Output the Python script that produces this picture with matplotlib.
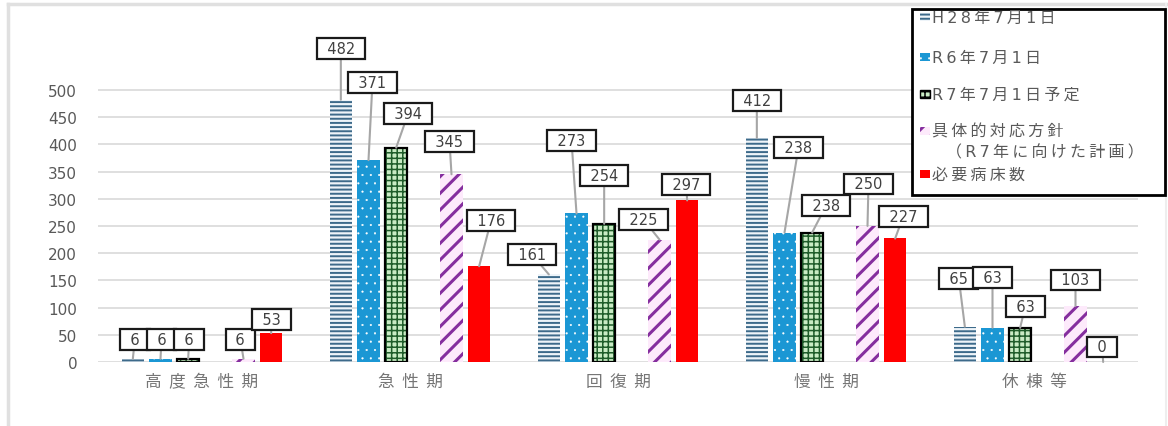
import matplotlib
matplotlib.use("Agg")
import matplotlib.pyplot as plt
from matplotlib.patches import Rectangle
from matplotlib.lines import Line2D

plt.rcParams['font.family'] = ['Noto Sans CJK JP', 'DejaVu Sans']
LATIN = ['DejaVu Sans', 'Noto Sans CJK JP']

# データ
categories = ["高度急性期", "急性期", "回復期", "慢性期", "休棟等"]
series_names = ["H28年7月1日", "R6年7月1日", "R7年7月1日予定",
                "具体的対応方針\n（R7年に向けた計画）", "必要病床数"]
h28 = [6, 482, 161, 412, 65]
r6 = [6, 371, 273, 238, 63]
r7 = [6, 394, 254, 238, 63]
plan = [6, 345, 225, 250, 103]
need = [53, 176, 297, 227, 0]
yticks = list(range(0, 501, 50))

# ラベル位置 (棒の上端からのずれ, ピクセル)
label_offsets = [
    [(2, 19), (0, 51), (-17, 20), (0, 37), (-6, 48)],
    [(1, 19), (4, 78), (-5, 73), (14, 85), (0, 50)],
    [(1, 19), (12, 34), (0, 48), (14, 27), (5, 21)],
    [(-3, 19), (-2, 33), (-16, 20), (1, 42), (0, 26)],
    [(0, 14), (12, 46), (-1, 16), (8, 22), (-1, 15)],
]

W, H = 1168, 427
fig = plt.figure(figsize=(W / 100, H / 100), dpi=100)
ax = fig.add_axes([98 / W, 64 / H, 1040 / W, 358 / H])

slot = 0.133
width = 0.106
slots = [-2.5, -1.5, -0.5, 1.5, 2.5]
# (face, hatch, hatchcolor, hatch lw, edge)
styles = [
    ("#eef4f9", "----", "#3d6a8a", 1.4, None),
    ("#1b97d4", "..", "#ffffff", 0.3, None),
    ("#c9ebc4", "+++", "#1f5c2a", 1.1, "#000000"),
    ("#fdeafb", "//", "#852e9e", 2.2, None),
    ("#ff0000", None, "#ff0000", 1.0, None),
]


def hatched_bars(target, xs, hs, w, st):
    face, hatch, hcol, hlw, edge = st
    with plt.rc_context({"hatch.linewidth": hlw}):
        bars = target.bar(xs, hs, w, color=face, hatch=hatch,
                          edgecolor=hcol, linewidth=0, zorder=3)
        if edge is not None:
            target.bar(xs, hs, w, facecolor="none",
                       edgecolor=edge, linewidth=1.6, zorder=4)
    return bars


x = list(range(len(categories)))
for i, vals in enumerate([h28, r6, r7, plan, need]):
    xs = [xi + slots[i] * slot for xi in x]
    hatched_bars(ax, xs, vals, width, styles[i])
    for j, v in enumerate(vals):
        dx, dy = label_offsets[i][j]
        ax.annotate("\u2002" + str(v) + "\u2002", xy=(xs[j], v), xytext=(dx, dy),
                    textcoords="offset pixels", ha="center", va="center",
                    fontsize=10.5, color="#404040", zorder=6, family=LATIN,
                    bbox=dict(boxstyle="square,pad=0.2", fc="white",
                              ec="#1a1a1a", lw=1.6),
                    arrowprops=dict(arrowstyle="-", color="#a6a6a6", lw=1.5,
                                    shrinkA=0, shrinkB=0))

ax.set_xlim(-0.5, 4.5)
ax.set_ylim(0, 658)
ax.set_yticks(yticks)
ax.set_xticks(x)
ax.set_xticklabels(["  ".join(c) for c in categories], fontsize=12,
                   color="#767676")
ax.tick_params(axis="y", length=0, pad=15)
for t in ax.get_yticklabels():
    t.set_family(LATIN)
    t.set_fontsize(11)
    t.set_color("#595959")
ax.tick_params(axis="x", length=0, pad=8)
ax.grid(axis="y", color="#d9d9d9", lw=1.2, zorder=0)
ax.set_axisbelow(True)
for s in ax.spines.values():
    s.set_visible(False)


# 外枠
def fx(px):
    return px / W


def fy(py):
    return 1 - py / H


fig.add_artist(Line2D([fx(8), fx(8)], [fy(5), fy(427)], color="#e0e0e0", lw=2.5))
fig.add_artist(Line2D([fx(8), fx(1166)], [fy(5), fy(5)], color="#e0e0e0", lw=2.5))
fig.add_artist(Line2D([fx(1166), fx(1166)], [fy(5), fy(427)], color="#eeeeee", lw=1.5))

# 凡例 (手描き)
fig.add_artist(Rectangle((fx(912), fy(196)), fx(1165) - fx(912), fy(10) - fy(196),
                         transform=fig.transFigure, fc="white", ec="black",
                         lw=2, zorder=10))
leg_y = [18, 58, 95, 132, 175]
for i, name in enumerate(series_names):
    face, hatch, hcol, hlw, edge = styles[i]
    with plt.rc_context({"hatch.linewidth": hlw}):
        fig.add_artist(Rectangle((fx(920), fy(leg_y[i] + 4)), fx(10), 8 / H,
                                 transform=fig.transFigure, fc=face, hatch=hatch,
                                 ec=edge if edge else hcol, lw=1 if edge else 0,
                                 zorder=11))
    lines = name.split("\n")
    fig.text(fx(932), fy(leg_y[i]), "\u2009".join(lines[0]), fontsize=11.5,
             color="#595959", va="center", ha="left", zorder=12, family=LATIN)
    if len(lines) > 1:
        fig.text(fx(946), fy(leg_y[i] + 21), "\u2009".join(lines[1]), fontsize=11.5,
                 color="#595959", va="center", ha="left", zorder=12, family=LATIN)

fig.savefig("out.png", dpi=100)
